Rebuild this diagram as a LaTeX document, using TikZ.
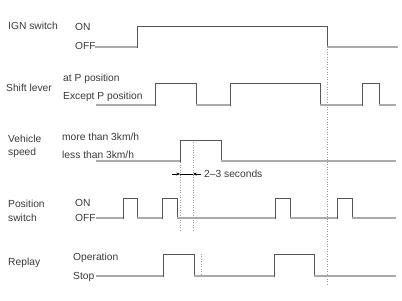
\documentclass[tikz,border=0pt]{standalone}
\usepackage{fontspec}
\setmainfont{Liberation Sans}
\usetikzlibrary{arrows.meta}
\definecolor{hicol}{HTML}{555555}
\definecolor{locol}{HTML}{AAAAAA}
\definecolor{txtcol}{HTML}{3A3A3A}
\definecolor{dashcol}{HTML}{999999}
\tikzset{
  lbl/.style={anchor=west,inner sep=0pt,font=\fontsize{10.3}{11}\selectfont,text=txtcol},
  wave/.style={draw=hicol,line width=0.8pt},
  lowseg/.style={draw=locol,line width=1.6pt},
  guide/.style={draw=dashcol,line width=0.5pt,dash pattern=on 1pt off 1.5pt},
  dim/.style={draw=black,line width=0.5pt}
}
\begin{document}
\begin{tikzpicture}[x=1bp,y=-1bp]
\useasboundingbox (0,0) rectangle (402,301);
% signal names
\node[lbl] (nIGN) at (8,26) {IGN switch};
\node[lbl] (nShift) at (6,88) {Shift lever};
\node[lbl] (nVeh1) at (8,139) {Vehicle};
\node[lbl] (nVeh2) at (8,153) {speed};
\node[lbl] (nPos1) at (8,204) {Position};
\node[lbl] (nPos2) at (8,218) {switch};
\node[lbl] (nRep) at (8,263) {Replay};
% level names
\node[lbl] (lIGNon) at (75,27) {ON};
\node[lbl] (lIGNoff) at (75,46) {OFF};
\node[lbl] (lSP) at (63,79) {at P position};
\node[lbl] (lSE) at (63,97) {Except P position};
\node[lbl] (lVm) at (62,137) {more than 3km/h};
\node[lbl] (lVl) at (62,155) {less than 3km/h};
\node[lbl] (lPon) at (75,203) {ON};
\node[lbl] (lPoff) at (75,218) {OFF};
\node[lbl] (lRop) at (73,258) {Operation};
\node[lbl] (lRst) at (73,277) {Stop};
% guides
\draw[guide] (327,47) -- (327,285);
\draw[guide] (180,140) -- (180,230);
\draw[guide] (193,140) -- (193,230);
\draw[guide] (201,254) -- (201,276);
% IGN switch
\draw[wave] (95,47) -- (137,47) -- (137,26) -- (327,26) -- (327,47) -- (398,47);
\draw[lowseg] (95,47) -- (137,47) (327,47) -- (398,47);
% Shift lever
\draw[wave] (96,105) -- (155,105) -- (155,83) -- (196,83) -- (196,105) -- (230,105) -- (230,83) -- (320,83) -- (320,105) -- (362,105) -- (362,83) -- (379,83) -- (379,105) -- (396,105);
\draw[lowseg] (96,105) -- (155,105) (196,105) -- (230,105) (320,105) -- (362,105) (379,105) -- (396,105);
% Vehicle speed
\draw[wave] (96,161) -- (180,161) -- (180,140) -- (221,140) -- (221,161) -- (396,161);
\draw[lowseg] (96,161) -- (180,161) (221,161) -- (396,161);
% Position switch
\draw[wave] (96,218) -- (123,218) -- (123,198) -- (137,198) -- (137,218) -- (162,218) -- (162,198) -- (177,198) -- (177,218) -- (275,218) -- (275,198) -- (290,198) -- (290,218) -- (337,218) -- (337,198) -- (352,198) -- (352,218) -- (396,218);
\draw[lowseg] (96,218) -- (123,218) (137,218) -- (162,218) (177,218) -- (275,218) (290,218) -- (337,218) (352,218) -- (396,218);
% Replay
\draw[wave] (96,276) -- (163,276) -- (163,254) -- (194,254) -- (194,276) -- (274,276) -- (274,254) -- (314,254) -- (314,276) -- (396,276);
\draw[lowseg] (96,276) -- (163,276) (194,276) -- (274,276) (314,276) -- (396,276);
% 2-3 seconds dimension
\coordinate (dL0) at (172,174);
\coordinate (dL1) at (180,174);
\coordinate (dR0) at (201,174);
\coordinate (dR1) at (193,174);
\draw[dim] (dL1) -- (dR1);
\draw[dim,-{Stealth[length=3.5pt,width=3pt]}] (dL0) -- (dL1);
\draw[dim,-{Stealth[length=3.5pt,width=3pt]}] (dR0) -- (dR1);
\node[lbl] (tSec) at (204,174) {2–3 seconds};
\end{tikzpicture}
\end{document}
